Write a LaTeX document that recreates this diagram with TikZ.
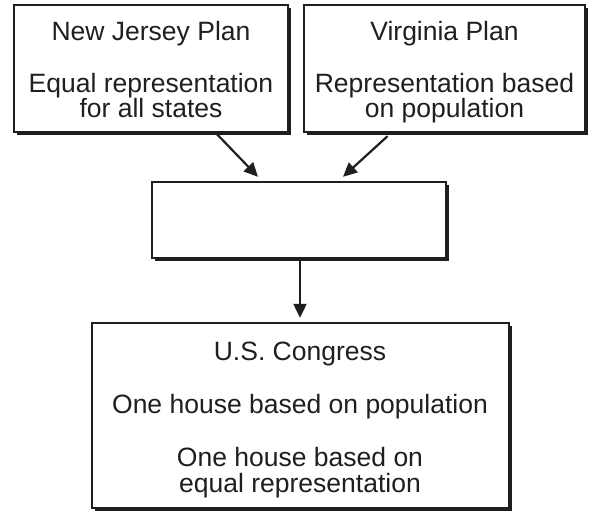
\documentclass[tikz,border=0pt]{standalone}
\usepackage{fontspec}
\setmainfont{Liberation Sans}
\usetikzlibrary{arrows.meta,calc,shadows}
\begin{document}
\begin{tikzpicture}[x=1pt,y=-1pt,
  box/.style={rectangle,draw=black!88,line width=2.4pt,fill=white,inner sep=0pt,
    drop shadow={shadow xshift=2.6pt,shadow yshift=-2.6pt,fill=black!88,opacity=1}},
  txt/.style={anchor=base,inner sep=0pt,font=\fontsize{26.5}{27}\selectfont,text=black!88},
  arr/.style={draw=black!88,line width=2.2pt,-{Triangle[length=14pt,width=13pt]}}]
\useasboundingbox (0,0) rectangle (594,512);
\node[box,minimum width=274pt,minimum height=127pt] (nj) at (151,68.5) {};
\node[box,minimum width=281pt,minimum height=127pt] (va) at (444.5,68.5) {};
\node[box,minimum width=294pt,minimum height=76pt] (mid) at (299,220) {};
\node[box,minimum width=417pt,minimum height=185pt] (bot) at (300.5,415.5) {};
\node[txt] (nj1) at (151,40) {New Jersey Plan};
\node[txt] (nj2) at (151,92) {Equal representation};
\node[txt] (nj3) at (151,117) {for all states};
\node[txt] (va1) at (444.5,40) {Virginia Plan};
\node[txt] (va2) at (444.5,92) {Representation based};
\node[txt] (va3) at (444.5,117) {on population};
\node[txt] (b1) at (300,360) {U.S. Congress};
\node[txt] (b2) at (300,413) {One house based on population};
\node[txt] (b3) at (300,466) {One house based on};
\node[txt] (b4) at (300,492) {equal representation};
\draw[arr] ($(nj.south)+(66,1)$) -- ($(mid.north)+(-41,-4)$);
\draw[arr] ($(va.south)+(-57,3)$) -- ($(mid.north)+(44,-4)$);
\draw[arr] ($(mid.south)+(1,1)$) -- ($(mid.south|-bot.north)+(1,-4)$);
\end{tikzpicture}
\end{document}
